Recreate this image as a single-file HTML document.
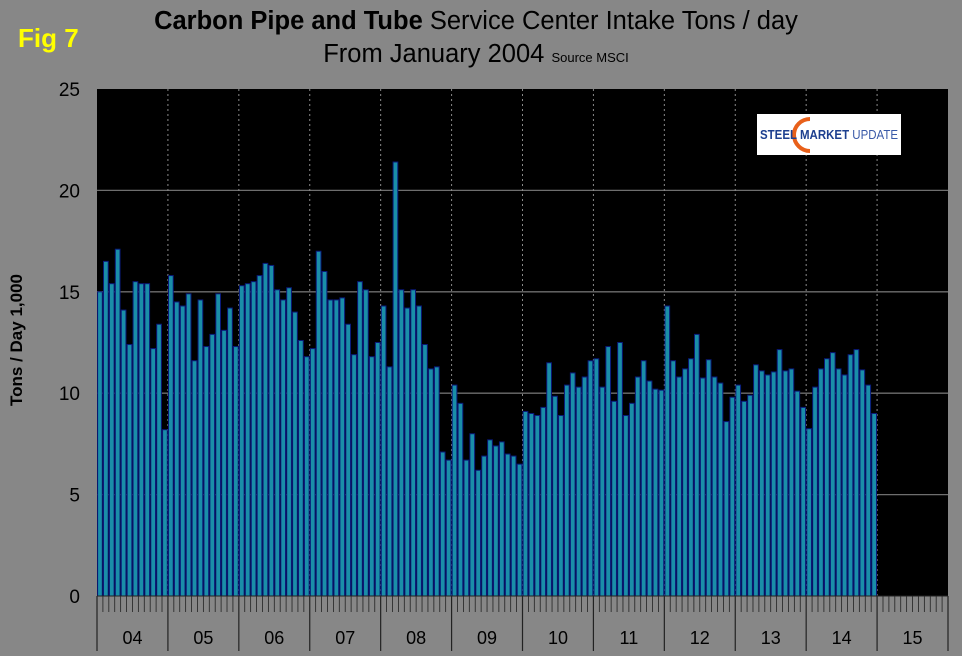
<!DOCTYPE html>
<html><head><meta charset="utf-8"><style>
body{margin:0;background:#878787;}
svg{display:block;font-family:"Liberation Sans",Arial,sans-serif;}
</style></head><body>
<svg id="c" width="962" height="656">
<rect width="962" height="656" fill="#878787"/>
<text x="18" y="47" fill="#ffff00" font-size="26" font-weight="bold">Fig 7</text>
<text x="476" y="29" text-anchor="middle" font-size="25.5" fill="#000"><tspan font-weight="bold">Carbon Pipe and Tube</tspan> Service Center Intake Tons / day</text>
<text x="476" y="62" text-anchor="middle" font-size="25.5" fill="#000">From January 2004 <tspan font-size="13">Source MSCI</tspan></text>
<text transform="translate(22,340) rotate(-90)" text-anchor="middle" font-size="17" font-weight="bold" fill="#000">Tons / Day 1,000</text>
<rect x="97" y="89" width="851" height="507" fill="#000"/>
<g id="grid"></g><g id="bars"></g><g id="axes"></g>
<g>
<rect x="757" y="114" width="144" height="41" fill="#fff"/>
<path d="M810 119 A16 16 0 1 0 810 151" fill="none" stroke="#e8601a" stroke-width="4"/>
<text x="760" y="139" font-size="12.5" font-weight="bold" fill="#1d3f8f" textLength="138" lengthAdjust="spacingAndGlyphs">STEEL MARKET <tspan font-weight="normal" fill="#3a5aa8">UPDATE</tspan></text>
</g>
</svg>
<script>
const years=["04","05","06","07","08","09","10","11","12","13","14","15"];
const yTicks=[0,5,10,15,20,25];
const v2004=[15.0,16.5,15.4,17.1,14.1,12.4,15.5,15.4,15.4,12.2,13.4,8.2];
const v2005=[15.8,14.5,14.3,14.9,11.6,14.6,12.3,12.9,14.9,13.1,14.2,12.3];
const v2006=[15.3,15.4,15.5,15.8,16.4,16.3,15.1,14.6,15.2,14.0,12.6,11.8];
const v2007=[12.2,17.0,16.0,14.6,14.6,14.7,13.4,11.9,15.5,15.1,11.8,12.5];
const v2008=[14.3,11.3,21.4,15.1,14.2,15.1,14.3,12.4,11.2,11.3,7.1,6.7];
const v2009=[10.4,9.5,6.7,8.0,6.2,6.9,7.7,7.4,7.6,7.0,6.9,6.5];
const v2010=[9.1,9.0,8.9,9.3,11.5,9.85,8.9,10.4,11.0,10.3,10.8,11.6];
const v2011=[11.7,10.3,12.3,9.6,12.5,8.9,9.5,10.8,11.6,10.6,10.2,10.15];
const v2012=[14.3,11.6,10.8,11.2,11.7,12.9,10.75,11.65,10.8,10.5,8.6,9.8];
const v2013=[10.4,9.6,9.9,11.4,11.1,10.9,11.05,12.15,11.1,11.2,10.1,9.3];
const v2014=[8.25,10.3,11.2,11.7,12.0,11.2,10.9,11.9,12.15,11.15,10.4,9.0];
const values=[].concat(v2004,v2005,v2006,v2007,v2008,v2009,v2010,v2011,v2012,v2013,v2014);
const NS="http://www.w3.org/2000/svg";
const X0=97,X1=948,Y0=596,Y1=89,N=years.length*12;
const pitch=(X1-X0)/N;
const xs=i=>X0+i*pitch;
const ys=v=>Y0-(v/25)*(Y0-Y1);
function mk(t,a,p){const e=document.createElementNS(NS,t);for(const k in a)e.setAttribute(k,a[k]);p.appendChild(e);return e;}
const grid=document.getElementById('grid'),bars=document.getElementById('bars'),axes=document.getElementById('axes');
yTicks.forEach(t=>{
 if(t>0&&t<25){const l=mk('line',{x1:X0,x2:X1,y1:ys(t),y2:ys(t),stroke:'#6e6e6e','stroke-width':1.3},grid);
 
 }
 const tx=mk('text',{x:80,y:ys(t)+7,'text-anchor':'end','font-size':19,fill:'#000'},axes);tx.textContent=t;
 
 
});
years.forEach((y,k)=>{
 if(k>0){const l=mk('line',{x1:xs(k*12),x2:xs(k*12),y1:Y1,y2:Y0,stroke:'#8a8a8a','stroke-dasharray':'2,3'},grid);
 
 }
 const tx=mk('text',{x:xs(k*12+6),y:644,'text-anchor':'middle','font-size':18,fill:'#000'},axes);tx.textContent=y;
 
 
});
values.forEach((v,i)=>{
 const r=mk('rect',{x:xs(i)+0.6,y:ys(v),width:pitch-1.2,height:Y0-ys(v),fill:'#1a8ea8',stroke:'#0a1a7a','stroke-width':1},bars);
 
 
});
for(let i=0;i<=N;i++){
 const major=i%12===0;
 mk('line',{x1:xs(i),x2:xs(i),y1:Y0,y2:major?651:612,stroke:'#222','stroke-width':major?1.2:0.8},axes);
}
const ax=mk('line',{x1:X0,x2:X1,y1:Y0,y2:Y0,stroke:'#222'},axes);


</script>
</body></html>
